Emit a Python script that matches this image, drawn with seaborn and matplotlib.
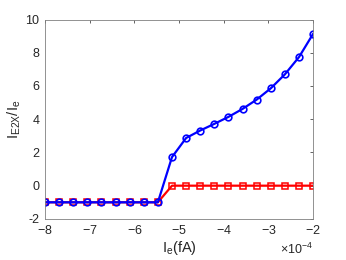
import matplotlib
matplotlib.use("Agg")
import matplotlib.pyplot as plt
import seaborn as sns

# x values in units of 1e-4 fA
x_vals = [-8.0, -7.684, -7.368, -7.053, -6.737, -6.421, -6.105, -5.789, -5.474, -5.158,
          -4.842, -4.526, -4.211, -3.895, -3.579, -3.263, -2.947, -2.632, -2.316, -2.0]
blue_vals = [-1, -1, -1, -1, -1, -1, -1, -1, -1, 1.72,
             2.87, 3.32, 3.72, 4.14, 4.62, 5.18, 5.86, 6.70, 7.74, 9.14]
red_vals = [-1, -1, -1, -1, -1, -1, -1, -1, -1, 0,
            0, 0, 0, 0, 0, 0, 0, 0, 0, 0]

x = [v * 1e-4 for v in x_vals]

sns.set_style("white")
plt.rcParams['font.family'] = ['Liberation Sans', 'DejaVu Sans']
plt.rcParams['mathtext.fontset'] = 'custom'
plt.rcParams['mathtext.rm'] = 'Liberation Sans'
plt.rcParams['mathtext.it'] = 'Liberation Sans'
plt.rcParams['axes.unicode_minus'] = False

fig = plt.figure(figsize=(3.46, 2.60), dpi=100)
ax = fig.add_axes([0.130, 0.158, 0.775, 0.767])

sns.lineplot(x=x, y=red_vals, ax=ax, color='red', marker='s', markersize=3.8,
             markerfacecolor='none', markeredgecolor='red', markeredgewidth=1.1,
             linewidth=1.6)
sns.lineplot(x=x, y=blue_vals, ax=ax, color='blue', marker='o', markersize=4.8,
             markerfacecolor='none', markeredgecolor='blue', markeredgewidth=1.2,
             linewidth=1.6)

ax.set_xlim(-8e-4, -2e-4)
ax.set_ylim(-2, 10)
ax.set_xticks([v * 1e-4 for v in [-8, -7, -6, -5, -4, -3, -2]])
ax.set_yticks([-2, 0, 2, 4, 6, 8, 10])
ax.ticklabel_format(axis='x', style='sci', scilimits=(0, 0), useMathText=True)

ax.tick_params(direction='in', length=2.5, width=0.5, labelsize=9,
               colors='#262626', top=True, right=True, pad=4)
for s in ax.spines.values():
    s.set_color('#808080')
    s.set_linewidth(0.6)
ax.xaxis.get_offset_text().set_fontsize(9)
ax.xaxis.get_offset_text().set_color('#262626')

ax.set_xlabel(r'$\mathregular{I_e(fA)}$', fontsize=10.5, color='#262626', labelpad=1)
ax.set_ylabel(r'$\mathregular{I_{E2X}/I_e}$', fontsize=10.5, color='#262626', labelpad=2)

fig.savefig("out.png", dpi=100)
